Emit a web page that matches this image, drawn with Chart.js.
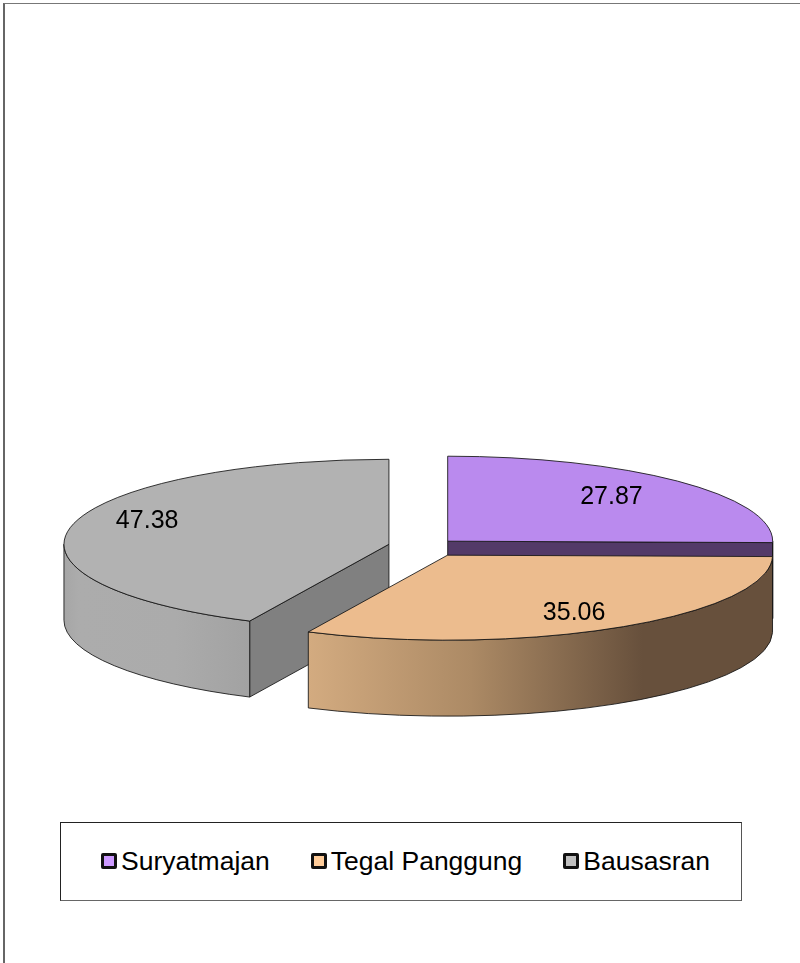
<!DOCTYPE html>
<html>
<head>
<meta charset="utf-8">
<title>Pie 3D</title>
<script src="https://cdn.jsdelivr.net/npm/chart.js@4"></script>
<style>
    html, body { margin: 0; padding: 0; background: #fff; }
    #page { position: relative; width: 800px; height: 963px; overflow: hidden; font-family: 'Liberation Sans', Arial, sans-serif; color: #000; }
    #frame { position: absolute; left: 3px; top: 3px; right: -5px; bottom: -5px; border-left: 2px solid #666; border-top: 1px solid #777; }
    #chart { position: absolute; left: 0; top: 0; }
    #legend { position: absolute; left: 60px; top: 822px; width: 682px; height: 79px; box-sizing: border-box; border: 1px solid #222; border-bottom-color: #666; border-right-color: #555; background: #fff; display: flex; align-items: center; justify-content: center; gap: 41px; padding-left: 9px; padding-bottom: 1px; font-size: 26.5px; }
    .lg-item { display: flex; align-items: center; gap: 4px; white-space: nowrap; }
    .lg-box { width: 16px; height: 16px; box-sizing: border-box; border: 3px solid #111; border-radius: 2px; }
</style>
</head>
<body>
<div id="page">
    <div id="frame"></div>
    <canvas id="chart" width="800" height="963"></canvas>
    <div id="legend"></div>
</div>
<script>
const categories = ['Suryatmajan', 'Tegal Panggung', 'Bausasran'];
const values = [27.87, 35.06, 47.38];
const explode = [29, 39, 39];

// colours
const legendColors = ['#CC99FF', '#FFCC99', '#C0C0C0'];
const topColors = ['#BA8AEE', '#ECBC8E', '#B2B2B2'];
const cutColors = ['#533A68', '#67503C', '#808080'];
const wallStops = [
    [[0, '#533A68'], [1, '#533A68']],
    [[0, '#D3AB80'], [0.35, '#AC8A65'], [0.72, '#67503C'], [1, '#67503C']],
    [[0, '#A6A6A6'], [0.08, '#ACACAC'], [0.6, '#ABABAB'], [1, '#A2A2A2']]
];

const TILT = 0.2615;   // ellipse height / width
const DEPTH = 76;      // thickness of the pie
const OUTLINE = 'rgba(20,20,20,0.85)';
const labelNudge = [[-10, 1], [-2, 4], [-4, -9]];

function sliceGeom(el, i) {
    const mid = (el.startAngle + el.endAngle) / 2;
    return {
        i, el,
        r: el.outerRadius,
        a0: el.startAngle,
        a1: el.endAngle,
        mid,
        cx: el.x + explode[i] * Math.cos(mid),
        cy: el.y + TILT * explode[i] * Math.sin(mid)
    };
}

function rim(g, a) {
    return [g.cx + g.r * Math.cos(a), g.cy + TILT * g.r * Math.sin(a)];
}

function drawCut(ctx, g, a) {
    const [x, y] = rim(g, a);
    ctx.beginPath();
    ctx.moveTo(g.cx, g.cy);
    ctx.lineTo(x, y);
    ctx.lineTo(x, y + DEPTH);
    ctx.lineTo(g.cx, g.cy + DEPTH);
    ctx.closePath();
    ctx.fillStyle = cutColors[g.i];
    ctx.fill();
    ctx.stroke();
}

function drawWall(ctx, g) {
    // only the part of the rim that faces the viewer (0..PI on canvas)
    let from = Math.max(g.a0, 0), to = Math.min(g.a1, Math.PI);
    if (to <= from) return;
    const xa = rim(g, to)[0], xb = rim(g, from)[0];
    const grad = ctx.createLinearGradient(xa, 0, xb, 0);
    wallStops[g.i].forEach(s => grad.addColorStop(s[0], s[1]));
    ctx.beginPath();
    ctx.ellipse(g.cx, g.cy, g.r, g.r * TILT, 0, from, to);
    ctx.ellipse(g.cx, g.cy + DEPTH, g.r, g.r * TILT, 0, to, from, true);
    ctx.closePath();
    ctx.fillStyle = grad;
    ctx.fill();
    ctx.stroke();
}

function drawTop(ctx, g) {
    ctx.beginPath();
    ctx.moveTo(g.cx, g.cy);
    ctx.ellipse(g.cx, g.cy, g.r, g.r * TILT, 0, g.a0, g.a1);
    ctx.closePath();
    ctx.fillStyle = topColors[g.i];
    ctx.fill();
    ctx.stroke();
}

const pie3d = {
    id: 'pie3d',
    beforeDatasetDraw(chart, args) {
        const ctx = chart.ctx;
        const slices = args.meta.data.map(sliceGeom).sort((a, b) => a.cy - b.cy);
        ctx.save();
        ctx.lineWidth = 1;
        ctx.strokeStyle = OUTLINE;
        ctx.lineJoin = 'round';
        slices.forEach(g => {
            // a cut face is seen when its outward normal points to the viewer
            if (Math.sin(g.a1 + Math.PI / 2) > 0.001) drawCut(ctx, g, g.a1);
            if (Math.sin(g.a0 - Math.PI / 2) > 0.001) drawCut(ctx, g, g.a0);
            drawWall(ctx, g);
            drawTop(ctx, g);
        });
        ctx.fillStyle = '#000';
        ctx.font = "25px 'Liberation Sans', Arial, sans-serif";
        ctx.textAlign = 'center';
        ctx.textBaseline = 'middle';
        slices.forEach(g => {
            const x = g.cx + 0.75 * g.r * Math.cos(g.mid) + labelNudge[g.i][0];
            const y = g.cy + 0.75 * g.r * TILT * Math.sin(g.mid) + labelNudge[g.i][1];
            ctx.fillText(values[g.i].toFixed(2), x, y);
        });
        ctx.restore();
        return false;
    }
};

new Chart(document.getElementById('chart'), {
    type: 'pie',
    data: {
        labels: categories,
        datasets: [{ data: values, backgroundColor: topColors, radius: 325 }]
    },
    options: {
        responsive: false,
        maintainAspectRatio: false,
        animation: false,
        events: [],
        layout: { padding: { left: 54, right: 0, top: 130, bottom: 0 } },
        plugins: { legend: { display: false }, tooltip: { enabled: false } }
    },
    plugins: [pie3d]
});

document.getElementById('legend').innerHTML = categories.map((c, i) =>
    `<div class="lg-item"><span class="lg-box" style="background:${legendColors[i]}"></span><span>${c}</span></div>`
).join('');
</script>
</body>
</html>
